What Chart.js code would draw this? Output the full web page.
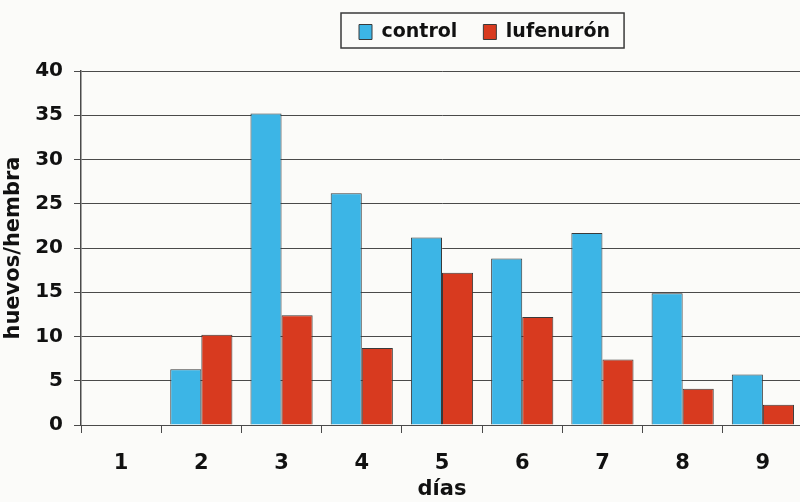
<!DOCTYPE html>
<html>
<head>
<meta charset="utf-8">
<title>huevos/hembra</title>
<script src="https://cdn.jsdelivr.net/npm/chart.js@4/dist/chart.umd.min.js"></script>
<style>
  body { margin: 0; background: #fbfbf9; overflow: hidden; }
</style>
</head>
<body>
<canvas id="my-chart" width="803" height="502"></canvas>
<script>
'use strict';

// Chart data
let dias = ['1', '2', '3', '4', '5', '6', '7', '8', '9'];
let controlValues = [0, 6.3, 35.2, 26.2, 21.2, 18.8, 21.7, 14.9, 5.7];
let lufenuronValues = [0, 10.2, 12.4, 8.7, 17.2, 12.2, 7.4, 4.1, 2.3];
let yTicks = [0, 5, 10, 15, 20, 25, 30, 35, 40];

// DOM reference
let ctx = document.getElementById('my-chart');

let fontName = 'DejaVu Sans';
let lineColor = '#4a4a4a';

// Moves the legend over to where it sits in the original and boxes it in
let legendBoxPlugin = {
  id: 'legendBox',
  afterUpdate(chart) {
    let legend = chart.legend;
    let boxes = legend.legendHitBoxes;
    if (!boxes || !boxes.length) return;
    let dx = 359 - boxes[0].left;
    let dy = 32 - (boxes[0].top + boxes[0].height / 2);
    legend.left += dx;
    legend.right += dx;
    legend.top += dy;
    legend.bottom += dy;
    for (let i = 0; i < boxes.length; i++) {
      boxes[i].left += dx;
      boxes[i].top += dy;
    }
  },
  afterDraw(chart) {
    let boxes = chart.legend.legendHitBoxes;
    if (!boxes || !boxes.length) return;
    let last = boxes[boxes.length - 1];
    let c = chart.ctx;
    c.save();
    c.strokeStyle = '#3a3a3a';
    c.lineWidth = 1.5;
    c.strokeRect(boxes[0].left - 18, 13, last.left + last.width + 14 - (boxes[0].left - 18), 35);
    c.restore();
  }
};

let chartObject = {
  type: 'bar',
  data: {
    labels: dias,
    datasets: [{
      label: 'control',
      data: controlValues,
      backgroundColor: '#3cb5e6',
      borderColor: '#3a3a3a',
      borderWidth: 1
    },
    {
      label: 'lufenurón',
      data: lufenuronValues,
      backgroundColor: '#d83a1f',
      borderColor: '#3a3a3a',
      borderWidth: 1
    }]
  },
  options: {
    responsive: false,
    animation: false,
    layout: {
      padding: { top: 16, left: 0, right: 0, bottom: 0 }
    },
    datasets: {
      bar: {
        categoryPercentage: 0.775,
        barPercentage: 1
      }
    },
    plugins: {
      tooltip: { enabled: false },
      legend: {
        position: 'top',
        labels: {
          boxWidth: 13,
          boxHeight: 15,
          padding: 26,
          color: '#111',
          font: { family: fontName, size: 19, weight: 'bold' }
        }
      }
    },
    scales: {
      x: {
        grid: {
          offset: true,
          drawOnChartArea: false,
          drawTicks: true,
          tickLength: 8,
          color: lineColor
        },
        border: { color: lineColor, width: 1 },
        ticks: {
          padding: 18,
          color: '#111',
          font: { family: fontName, size: 21, weight: 'bold' }
        },
        title: {
          display: true,
          text: 'días',
          color: '#111',
          padding: { top: 0, bottom: 0 },
          font: { family: fontName, size: 21, weight: 'bold' }
        },
        afterFit(scale) {
          scale.height = 77;
        }
      },
      y: {
        min: 0,
        max: 40,
        afterBuildTicks(scale) {
          scale.ticks = yTicks.map(v => ({ value: v }));
        },
        grid: {
          color: lineColor,
          lineWidth: 1,
          tickLength: 7
        },
        border: { color: lineColor, width: 1.5 },
        ticks: {
          padding: 11,
          color: '#111',
          font: { family: fontName, size: 20, weight: 'bold' }
        },
        title: {
          display: true,
          text: 'huevos/hembra',
          color: '#111',
          padding: { top: 1, bottom: 0 },
          font: { family: fontName, size: 21, weight: 'bold' }
        },
        afterFit(scale) {
          scale.width = 81;
        }
      }
    }
  },
  plugins: [legendBoxPlugin]
};

const productChart = new Chart(ctx, chartObject);
</script>
</body>
</html>
